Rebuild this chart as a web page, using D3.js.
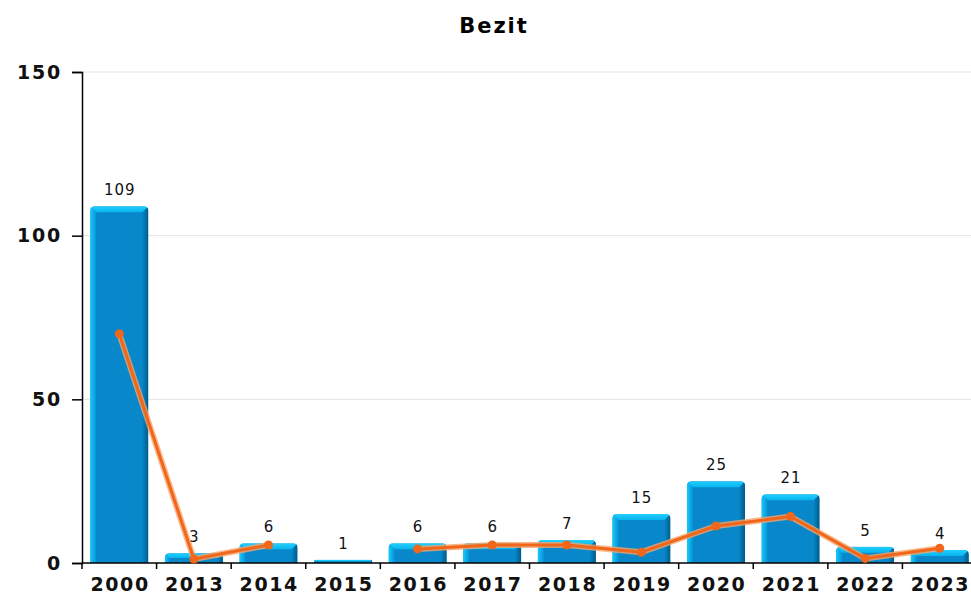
<!DOCTYPE html>
<html>
<head>
<meta charset="utf-8">
<script src="https://d3js.org/d3.v7.min.js"></script>
<style>
  body { margin: 0; background: #fff; }
  text { font-family: "DejaVu Sans", sans-serif; }
</style>
</head>
<body>
<div id="chart"></div>
<script>
// data
var years = ["2000", "2013", "2014", "2015", "2016", "2017", "2018", "2019", "2020", "2021", "2022", "2023"];
var barValues = [109, 3, 6, 1, 6, 6, 7, 15, 25, 21, 5, 4];
var lineValues = [70, 1.2, 5.5, null, 4.3, 5.5, 5.5, 3.3, 11.3, 14.2, 1.4, 4.5];
var yTicks = [0, 50, 100, 150];

var W = 971, H = 598;
var plotLeft = 82, plotRight = 977, plotTop = 72, plotBottom = 563;

var svg = d3.select("#chart").append("svg")
  .attr("width", W).attr("height", H);

var defs = svg.append("defs");
function grad(id, x2, y2, stops) {
  var g = defs.append("linearGradient").attr("id", id)
    .attr("x1", "0").attr("y1", "0").attr("x2", x2).attr("y2", y2);
  stops.forEach(function (s) {
    g.append("stop").attr("offset", s[0]).attr("stop-color", s[1]);
  });
}
grad("gLeft", "1", "0", [["0%", "#12ccff"], ["100%", "#0a92d6"]]);
grad("gRight", "1", "0", [["0%", "#0785c6"], ["100%", "#005b8a"]]);
grad("gTop", "0", "1", [["0%", "#22d0ff"], ["100%", "#08b4ee"]]);

var x = d3.scaleBand().domain(years).range([plotLeft, plotRight]).paddingInner(0.22).paddingOuter(0.11);
var y = d3.scaleLinear().domain([0, 150]).range([plotBottom, plotTop]);
var step = x.step();

// title
svg.append("text")
  .attr("x", 494).attr("y", 33)
  .attr("text-anchor", "middle")
  .style("font-size", "21px").style("font-weight", "bold")
  .style("letter-spacing", "2px")
  .text("Bezit");

// grid
svg.append("g").selectAll("line")
  .data(yTicks.filter(function (d) { return d > 0; }))
  .enter().append("line")
  .attr("x1", plotLeft).attr("x2", W)
  .attr("y1", function (d) { return y(d); }).attr("y2", function (d) { return y(d); })
  .attr("stroke", "#e4e4e4").attr("stroke-width", 1);

// y axis
var yAxis = svg.append("g")
  .attr("transform", "translate(" + plotLeft + ",0)")
  .call(d3.axisLeft(y).tickValues(yTicks).tickSize(10).tickPadding(10));
yAxis.select(".domain").attr("stroke", "#000").attr("stroke-width", 1.5);
yAxis.selectAll(".tick line").attr("stroke", "#000").attr("stroke-width", 1.5);
yAxis.selectAll(".tick text")
  .style("font-size", "19px").style("font-weight", "bold")
  .style("letter-spacing", "1.8px")
  .style("font-family", "DejaVu Sans").attr("fill", "#111");

// bars, drawn as bevelled boxes
var bars = svg.append("g").selectAll("g")
  .data(years.map(function (d, i) { return { year: d, value: barValues[i] }; }))
  .enter().append("g");

function pts2d(a) { return "M" + a.map(function (p) { return p[0] + "," + p[1]; }).join("L") + "Z"; }
function geom(d) {
  var x0 = x(d.year), w = x.bandwidth(), y0 = y(d.value), y1 = y(0);
  var b = Math.min(6, (y1 - y0) / 2);
  return { x0: x0, x1: x0 + w, y0: y0, y1: y1, b: b };
}
bars.each(function (d, i) {
  var g = geom(d), sel = d3.select(this);
  var r = Math.min(5, (g.y1 - g.y0) / 2);
  var cid = "clip" + i;
  defs.append("clipPath").attr("id", cid).append("path")
    .attr("d", "M" + g.x0 + "," + g.y1 + "V" + (g.y0 + r) +
      "Q" + g.x0 + "," + g.y0 + " " + (g.x0 + r) + "," + g.y0 +
      "H" + (g.x1 - r) + "Q" + g.x1 + "," + g.y0 + " " + g.x1 + "," + (g.y0 + r) +
      "V" + g.y1 + "Z");
  var c = sel.append("g").attr("clip-path", "url(#" + cid + ")");
  c.append("rect").attr("x", g.x0).attr("y", g.y0)
    .attr("width", g.x1 - g.x0).attr("height", g.y1 - g.y0).attr("fill", "#0888cb");
  c.append("path").attr("fill", "url(#gLeft)")
    .attr("d", pts2d([[g.x0, g.y0], [g.x0 + g.b, g.y0 + g.b], [g.x0 + g.b, g.y1], [g.x0, g.y1]]));
  c.append("path").attr("fill", "url(#gRight)")
    .attr("d", pts2d([[g.x1, g.y0], [g.x1, g.y1], [g.x1 - g.b, g.y1], [g.x1 - g.b, g.y0 + g.b]]));
  c.append("path").attr("fill", "url(#gTop)")
    .attr("d", pts2d([[g.x0, g.y0], [g.x1, g.y0], [g.x1 - g.b, g.y0 + g.b], [g.x0 + g.b, g.y0 + g.b]]));
});

// value labels
bars.append("text")
  .attr("x", function (d) { return x(d.year) + x.bandwidth() / 2 + 0.5; })
  .attr("y", function (d) { return y(d.value) - 11; })
  .attr("text-anchor", "middle")
  .style("font-size", "15px").style("letter-spacing", "1px").attr("fill", "#111")
  .text(function (d) { return d.value; });

// x axis
var xg = svg.append("g");
xg.append("line")
  .attr("x1", plotLeft).attr("x2", W).attr("y1", plotBottom).attr("y2", plotBottom)
  .attr("stroke", "#000").attr("stroke-width", 1.5);
xg.selectAll("line.tk")
  .data(years)
  .enter().append("line").attr("class", "tk")
  .attr("x1", function (d) { return x(d) - step * 0.11; })
  .attr("x2", function (d) { return x(d) - step * 0.11; })
  .attr("y1", plotBottom).attr("y2", plotBottom + 6)
  .attr("stroke", "#000").attr("stroke-width", 1.5);
xg.selectAll("text")
  .data(years)
  .enter().append("text")
  .attr("x", function (d) { return x(d) + x.bandwidth() / 2 + 0.8; })
  .attr("y", plotBottom + 28)
  .attr("text-anchor", "middle")
  .style("font-size", "19px").style("font-weight", "bold")
  .style("letter-spacing", "1.6px").attr("fill", "#111")
  .text(function (d) { return d; });

// line
var pts = years.map(function (d, i) { return { year: d, value: lineValues[i] }; });
var line = d3.line()
  .defined(function (d) { return d.value !== null; })
  .x(function (d) { return x(d.year) + x.bandwidth() / 2; })
  .y(function (d) { return y(d.value); });
svg.append("path").attr("d", line(pts))
  .attr("fill", "none").attr("stroke", "#f7a46a").attr("stroke-width", 6)
  .attr("stroke-linejoin", "round").attr("opacity", 0.8);
svg.append("path").attr("d", line(pts))
  .attr("fill", "none").attr("stroke", "#f0661a").attr("stroke-width", 3)
  .attr("stroke-linejoin", "round");
svg.append("g").selectAll("circle")
  .data(pts.filter(function (d) { return d.value !== null; }))
  .enter().append("circle")
  .attr("cx", function (d) { return x(d.year) + x.bandwidth() / 2; })
  .attr("cy", function (d) { return y(d.value); })
  .attr("r", 4.5)
  .attr("fill", "#f0661a");
</script>
</body>
</html>
